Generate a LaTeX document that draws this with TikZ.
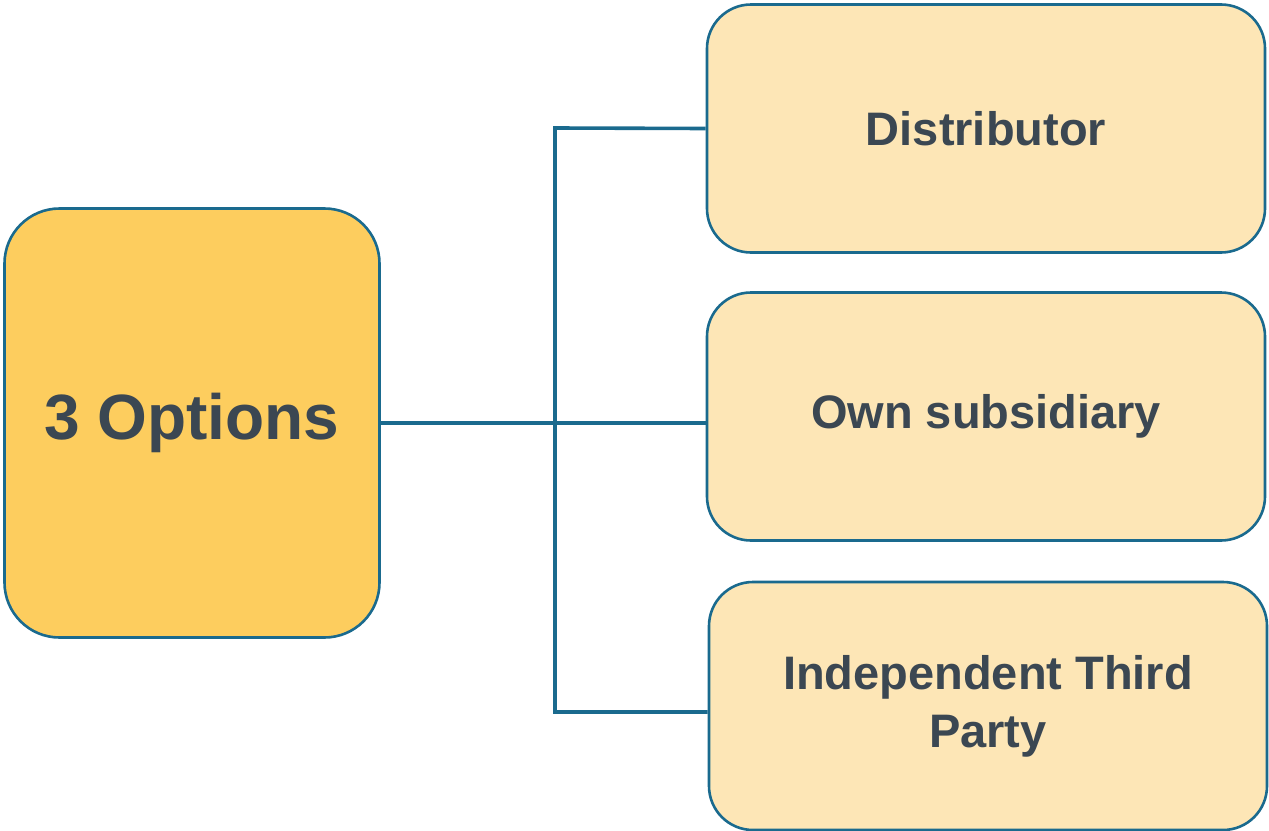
\documentclass[tikz,border=0pt]{standalone}
\usepackage{fontspec}
\setmainfont{Liberation Sans}
\usetikzlibrary{positioning, calc}
\definecolor{edgeBlue}{HTML}{1A6A8E}
\definecolor{mainGold}{HTML}{FDCD5E}
\definecolor{optCream}{HTML}{FDE6B6}
\definecolor{labelText}{HTML}{3B4752}

\begin{document}
\begin{tikzpicture}[x=1pt, y=-1pt,
    optbox/.style={draw=edgeBlue, line width=2.6pt, fill=optCream, rounded corners=44pt,
      minimum width=558pt, minimum height=248pt, align=center,
      font=\fontsize{47}{58}\selectfont\bfseries, text=labelText},
    link/.style={edgeBlue, line width=3.6pt}]
  \useasboundingbox (0,0) rectangle (1269,830);
  % Main box
  \node[draw=edgeBlue, line width=2.6pt, fill=mainGold, rounded corners=55pt,
    minimum width=375pt, minimum height=429pt, font=\fontsize{64}{70}\selectfont\bfseries,
    text=labelText] (opts) at (192,423) {3 Options};
  % The three options
  \node[optbox] (dist) at (986,128.5) {Distributor};
  \node[optbox] (sub) at (986,416.5) {Own subsidiary};
  \node[optbox] (third) at (988,706) {Independent Third\\Party};
  % Connectors
  \coordinate (jtop) at (555,128);
  \coordinate (jbot) at (555,712);
  \draw[link] (dist.west) -- (jtop) -- (jbot) -- (third.west |- jbot);
  \draw[link] (opts.east) -- (opts.east -| sub.west);
\end{tikzpicture}
\end{document}
